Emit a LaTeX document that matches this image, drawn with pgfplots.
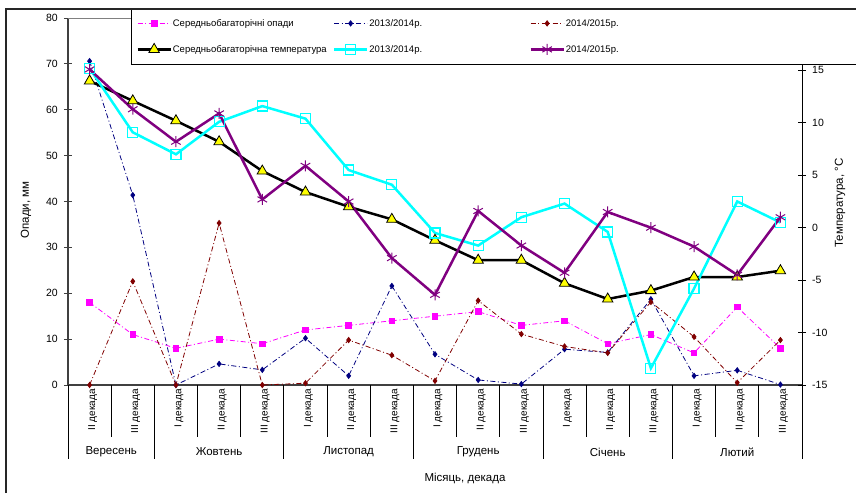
\documentclass[border=0pt]{standalone}
\usepackage{fontspec}
\setmainfont{Liberation Sans}
\usepackage{pgfplots}
\usepackage{pgfplotstable}
\pgfplotsset{compat=1.18}
\definecolor{navyc}{RGB}{0,0,128}
\definecolor{maroonc}{RGB}{128,0,0}
\definecolor{purplec}{RGB}{128,0,128}
\definecolor{magentac}{RGB}{255,0,255}
\definecolor{cyanc}{RGB}{0,255,255}
\definecolor{yellowc}{RGB}{255,255,0}

\pgfplotstableread{
x pink navy red black cyan purple
0  18 70.6 0    14.0 15.2 15.1
1  11 41.4 22.6 12.1 9.1  11.3
2  8  0    0    10.2 7.0  8.2
3  10 4.6  35.3 8.2  10.1 10.9
4  9  3.3  0    5.4  11.6 2.7
5  12 10.2 0.4  3.4  10.4 5.9
6  13 2.0  9.8  2.0  5.5  2.5
7  14 21.6 6.5  0.8  4.1  -2.9
8  15 6.7  0.9  -1.2 -0.5 -6.4
9  16 1.1  18.4 -3.1 -1.7 1.6
10 13 0.2  11.1 -3.1 1.0  -1.7
11 14 7.8  8.4  -5.3 2.3  -4.3
12 9  7.1  7.0  -6.8 -0.4 1.5
13 11 18.7 18.1 -6.0 -13.4 0.0
14 7  2.0  10.5 -4.7 -5.8 -1.8
15 17 3.2  0.5  -4.7 2.5  -4.5
16 8  0.1  9.8  -4.1 0.5  1.0
}\datatable

\begin{document}
\begin{tikzpicture}
\pgfplotsset{
 common/.style={
  scale only axis, width=734pt, height=367pt,
  at={(68pt,-385pt)}, anchor=south west,
  xmin=-0.5, xmax=16.5,
  /pgf/number format/assume math mode=true,
  ticklabel style={font=\fontsize{10.5}{12}\selectfont},
 },
 precip/.style={line width=0.8pt, dash pattern=on 5pt off 2.5pt on 1pt off 2.5pt},
 temp/.style={line width=2.5pt, solid},
}
\begin{axis}[common, clip=false,
  axis lines=left, axis line style={-, draw=black!75, line width=1.3pt},
  tick align=center, major tick length=8pt,
  ymin=0, ymax=80, ytick={0,10,...,80},
  ytick style={black!75, line width=0.8pt},
  yticklabel style={inner sep=0pt, xshift=-6pt},
  xtick={0,...,16}, xtick style={draw=none},
  xticklabels={II декада, III декада, I декада, II декада, III декада, I декада, II декада, III декада, I декада, II декада, III декада, I декада, II декада, III декада, I декада, II декада, III декада},
  xticklabel style={rotate=90, anchor=east, inner sep=0pt, yshift=-3pt, font=\fontsize{10}{12}\selectfont},
]
\addplot[precip, magentac, mark=square*, mark size=2.8pt, mark options={solid, fill=magentac}] table[x=x, y=pink] {\datatable};
\addplot[precip, navyc, mark=diamond*, mark size=2.6pt, mark options={solid, fill=navyc}] table[x=x, y=navy] {\datatable};
\addplot[precip, maroonc, mark=diamond*, mark size=2.6pt, mark options={solid, fill=maroonc}] table[x=x, y=red] {\datatable};
\draw[black!50, line width=0.6pt] (rel axis cs:0,1) -- (rel axis cs:1,1);
\pgfplotsinvokeforeach{0.5,2.5,3.5,5.5,6.5,8.5,9.5,11.5,12.5,14.5,15.5}{\draw[black, line width=0.8pt] (axis cs:#1,0) -- ++(0pt,-52pt);}
\pgfplotsinvokeforeach{-0.5,1.5,4.5,7.5,10.5,13.5,16.5}{\draw[black, line width=0.8pt] (axis cs:#1,0) -- ++(0pt,-74pt);}
\node[font=\fontsize{11.5}{13}\selectfont] at ([yshift=-67pt]axis cs:0.5,0) {Вересень};
\node[font=\fontsize{11.5}{13}\selectfont] at ([yshift=-67pt]axis cs:3,0) {Жовтень};
\node[font=\fontsize{11.5}{13}\selectfont] at ([yshift=-67pt]axis cs:6,0) {Листопад};
\node[font=\fontsize{11.5}{13}\selectfont] at ([yshift=-67pt]axis cs:9,0) {Грудень};
\node[font=\fontsize{11.5}{13}\selectfont] at ([yshift=-67pt]axis cs:12,0) {Січень};
\node[font=\fontsize{11.5}{13}\selectfont] at ([yshift=-67pt]axis cs:15,0) {Лютий};
\end{axis}

\begin{axis}[common,
  axis y line*=right, axis x line=none, axis line style={-, draw=black, line width=1pt},
  tick align=center, major tick length=8pt,
  ymin=-15, ymax=20, ytick={-15,-10,...,15},
  ytick style={black, line width=0.8pt},
  yticklabel style={inner sep=0pt, xshift=6pt},
  legend columns=3,
  legend cell align=left,
  legend image code/.code={\draw[mark repeat=2,mark phase=2,#1] plot coordinates {(0pt,0pt) (16.5pt,0pt) (33pt,0pt)};},
  legend style={at={(0.0858,1.0245)}, anchor=north west, draw=black, line width=0.8pt, fill=white,
     inner xsep=5pt, inner ysep=9pt, row sep=15pt, column sep=0pt,
     font=\fontsize{9.5}{11}\selectfont,
     nodes={inner sep=0pt, text height=8pt, text depth=2pt}},
]
\addlegendimage{precip, magentac, mark=square*, mark size=2.8pt, mark options={solid, fill=magentac}}
\addlegendentry{\makebox[161pt][l]{\hspace{1pt}Середньобагаторічні опади}}
\addlegendimage{precip, navyc, mark=diamond*, mark size=2.6pt, mark options={solid, fill=navyc}}
\addlegendentry{\makebox[161pt][l]{\hspace{1pt}2013/2014р.}}
\addlegendimage{precip, maroonc, mark=diamond*, mark size=2.6pt, mark options={solid, fill=maroonc}}
\addlegendentry{\makebox[330pt][l]{\hspace{1pt}2014/2015р.}}
\addplot[temp, black, mark=triangle*, mark size=6pt, mark options={fill=yellowc, draw=black, line width=0.8pt}] table[x=x, y=black] {\datatable};
\addlegendentry{\makebox[161pt][l]{\hspace{1pt}Середньобагаторічна температура}}
\addplot[temp, cyanc, mark=square, mark size=5pt, mark options={line width=1.2pt}] table[x=x, y=cyan] {\datatable};
\addlegendentry{\makebox[161pt][l]{\hspace{1pt}2013/2014р.}}
\addplot[temp, purplec, mark=asterisk, mark size=5.5pt, mark options={line width=1pt}] table[x=x, y=purple] {\datatable};
\addlegendentry{\makebox[330pt][l]{\hspace{1pt}2014/2015р.}}
\end{axis}

\node[font=\fontsize{11.5}{13}\selectfont] at (465pt,-478pt) {Місяць, декада};
\node[rotate=90, font=\fontsize{11.5}{13}\selectfont] at (26pt,-210pt) {Опади, мм};
\node[rotate=90, font=\fontsize{11.5}{13}\selectfont] at (840pt,-203pt) {Температура, °C};
\draw[line width=2pt, black!85] (6pt,-493pt) -- (6pt,-9pt) -- (870pt,-9pt);
\pgfresetboundingbox
\useasboundingbox (0pt,0pt) rectangle (856pt,-493pt);
\end{tikzpicture}
\end{document}
